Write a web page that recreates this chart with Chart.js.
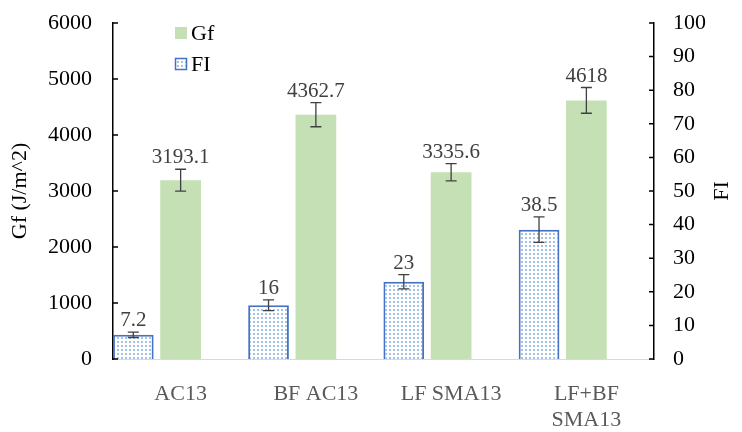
<!DOCTYPE html>
<html>
<head>
<meta charset="utf-8">
<script src="https://cdn.jsdelivr.net/npm/chart.js@4.4.0/dist/chart.umd.min.js"></script>
<style>
html, body { margin: 0; padding: 0; background: #fff; }
#wrap { width: 742px; height: 432px; }
</style>
</head>
<body>
<div id="wrap"><canvas id="chart"></canvas></div>
<script>
// data
var categories = [['AC13'], ['BF AC13'], ['LF SMA13'], ['LF+BF', 'SMA13']];
var gfValues = [3193.1, 4362.7, 3335.6, 4618];
var gfErrors = [195, 215, 155, 230];
var fiValues = [7.2, 16, 23, 38.5];
var fiErrors = [0.8, 1.6, 2.1, 3.8];
var gfAxis = { min: 0, max: 6000, step: 1000 };
var fiAxis = { min: 0, max: 100, step: 10 };

var serif = "'Liberation Serif', 'Times New Roman', serif";
var green = '#c5e0b4';
var blue = '#4472c4';

var canvas = document.getElementById('chart');

// dotted fill used by the FI bars
function dotPattern() {
    var c = document.createElement('canvas');
    c.width = 4; c.height = 4;
    var g = c.getContext('2d');
    g.fillStyle = '#ffffff';
    g.fillRect(0, 0, 4, 4);
    g.fillStyle = '#a4c2e8';
    g.fillRect(1, 1, 2, 2);
    return canvas.getContext('2d').createPattern(c, 'repeat');
}
var dots = dotPattern();

// error bars, value labels, inward ticks, legend, right title
var extras = {
    id: 'extras',
    afterDatasetsDraw: function (chart) {
        var ctx = chart.ctx;
        var area = chart.chartArea;
        var sets = [
            { meta: chart.getDatasetMeta(0), scale: chart.scales.y1, vals: fiValues, errs: fiErrors },
            { meta: chart.getDatasetMeta(1), scale: chart.scales.y, vals: gfValues, errs: gfErrors }
        ];
        ctx.save();
        sets.forEach(function (s) {
            s.meta.data.forEach(function (bar, i) {
                var top = s.scale.getPixelForValue(s.vals[i] + s.errs[i]);
                var bot = s.scale.getPixelForValue(s.vals[i] - s.errs[i]);
                ctx.strokeStyle = '#404040';
                ctx.lineWidth = 1.3;
                ctx.beginPath();
                ctx.moveTo(bar.x, top); ctx.lineTo(bar.x, bot);
                ctx.moveTo(bar.x - 5.5, top); ctx.lineTo(bar.x + 5.5, top);
                ctx.moveTo(bar.x - 5.5, bot); ctx.lineTo(bar.x + 5.5, bot);
                ctx.stroke();
                ctx.fillStyle = '#404040';
                ctx.font = '21px ' + serif;
                ctx.textAlign = 'center';
                ctx.textBaseline = 'alphabetic';
                ctx.fillText(String(s.vals[i]), bar.x, top - 6);
            });
        });

        // tick marks pointing into the plot
        ctx.strokeStyle = '#000';
        ctx.lineWidth = 1.5;
        ctx.beginPath();
        chart.scales.y.ticks.forEach(function (t) {
            var y = chart.scales.y.getPixelForValue(t.value);
            ctx.moveTo(area.left, y); ctx.lineTo(area.left + 5, y);
        });
        chart.scales.y1.ticks.forEach(function (t) {
            var y = chart.scales.y1.getPixelForValue(t.value);
            ctx.moveTo(area.right - 5, y); ctx.lineTo(area.right, y);
        });
        ctx.stroke();

        // legend in the top left corner
        ctx.font = '22px ' + serif;
        ctx.textAlign = 'left';
        ctx.textBaseline = 'alphabetic';
        ctx.fillStyle = green;
        ctx.fillRect(175, 27, 12, 12);
        ctx.fillStyle = '#000';
        ctx.fillText(chart.data.datasets[1].label, 191, 40);
        ctx.fillStyle = dots;
        ctx.fillRect(175, 58, 12, 12);
        ctx.strokeStyle = blue;
        ctx.lineWidth = 1.5;
        ctx.strokeRect(175.5, 58.5, 11, 11);
        ctx.fillStyle = '#000';
        ctx.fillText(chart.data.datasets[0].label, 191, 71);

        // right axis title, reading bottom to top
        ctx.translate(722, (area.top + area.bottom) / 2);
        ctx.rotate(-Math.PI / 2);
        ctx.textAlign = 'center';
        ctx.textBaseline = 'middle';
        ctx.fillText('FI', 0, 0);
        ctx.restore();
    }
};

function plain(v) { return String(v); }

function fixWidth(w) {
    return function (s) {
        s.width = w;
        s.paddingTop = 0;
        s.paddingBottom = 0;
    };
}

new Chart(canvas.getContext('2d'), {
    type: 'bar',
    data: {
        labels: categories,
        datasets: [
            {
                label: 'FI',
                data: fiValues,
                yAxisID: 'y1',
                backgroundColor: dots,
                borderColor: blue,
                borderWidth: 2
            },
            {
                label: 'Gf',
                data: gfValues,
                yAxisID: 'y',
                backgroundColor: green,
                borderWidth: 0
            },
            {
                // empty slot so the pair sits left of the label like in Excel
                label: '',
                data: [0, 0, 0, 0],
                yAxisID: 'y1',
                backgroundColor: 'rgba(0,0,0,0)',
                borderWidth: 0
            }
        ]
    },
    options: {
        responsive: true,
        maintainAspectRatio: false,
        animation: false,
        categoryPercentage: 1.05,
        barPercentage: 0.86,
        layout: { padding: { top: 23, left: 0, right: 0, bottom: 0 } },
        plugins: {
            legend: { display: false },
            tooltip: { enabled: false }
        },
        scales: {
            x: {
                grid: { display: false, drawTicks: false },
                border: { display: true, color: '#d9d9d9', width: 1 },
                ticks: {
                    color: '#595959',
                    padding: 22,
                    maxRotation: 0,
                    autoSkip: false,
                    font: { family: serif, size: 22 }
                },
                afterFit: function (s) {
                    s.height = 73;
                    s.paddingLeft = 0;
                    s.paddingRight = 0;
                }
            },
            y: {
                position: 'left',
                min: gfAxis.min,
                max: gfAxis.max,
                grid: { display: false, drawTicks: false },
                border: { display: true, color: '#000', width: 1.5 },
                ticks: {
                    stepSize: gfAxis.step,
                    callback: plain,
                    color: '#000',
                    padding: 21,
                    font: { family: serif, size: 22 }
                },
                title: {
                    display: true,
                    text: 'Gf (J/m^2)',
                    color: '#000',
                    padding: { top: 7, bottom: 0 },
                    font: { family: serif, size: 22 }
                },
                afterFit: fixWidth(113)
            },
            y1: {
                position: 'right',
                min: fiAxis.min,
                max: fiAxis.max,
                grid: { display: false, drawTicks: false },
                border: { display: true, color: '#000', width: 1.5 },
                ticks: {
                    stepSize: fiAxis.step,
                    callback: plain,
                    color: '#000',
                    padding: 19,
                    font: { family: serif, size: 22 }
                },
                afterFit: fixWidth(88)
            }
        }
    },
    plugins: [extras]
});
</script>
</body>
</html>
